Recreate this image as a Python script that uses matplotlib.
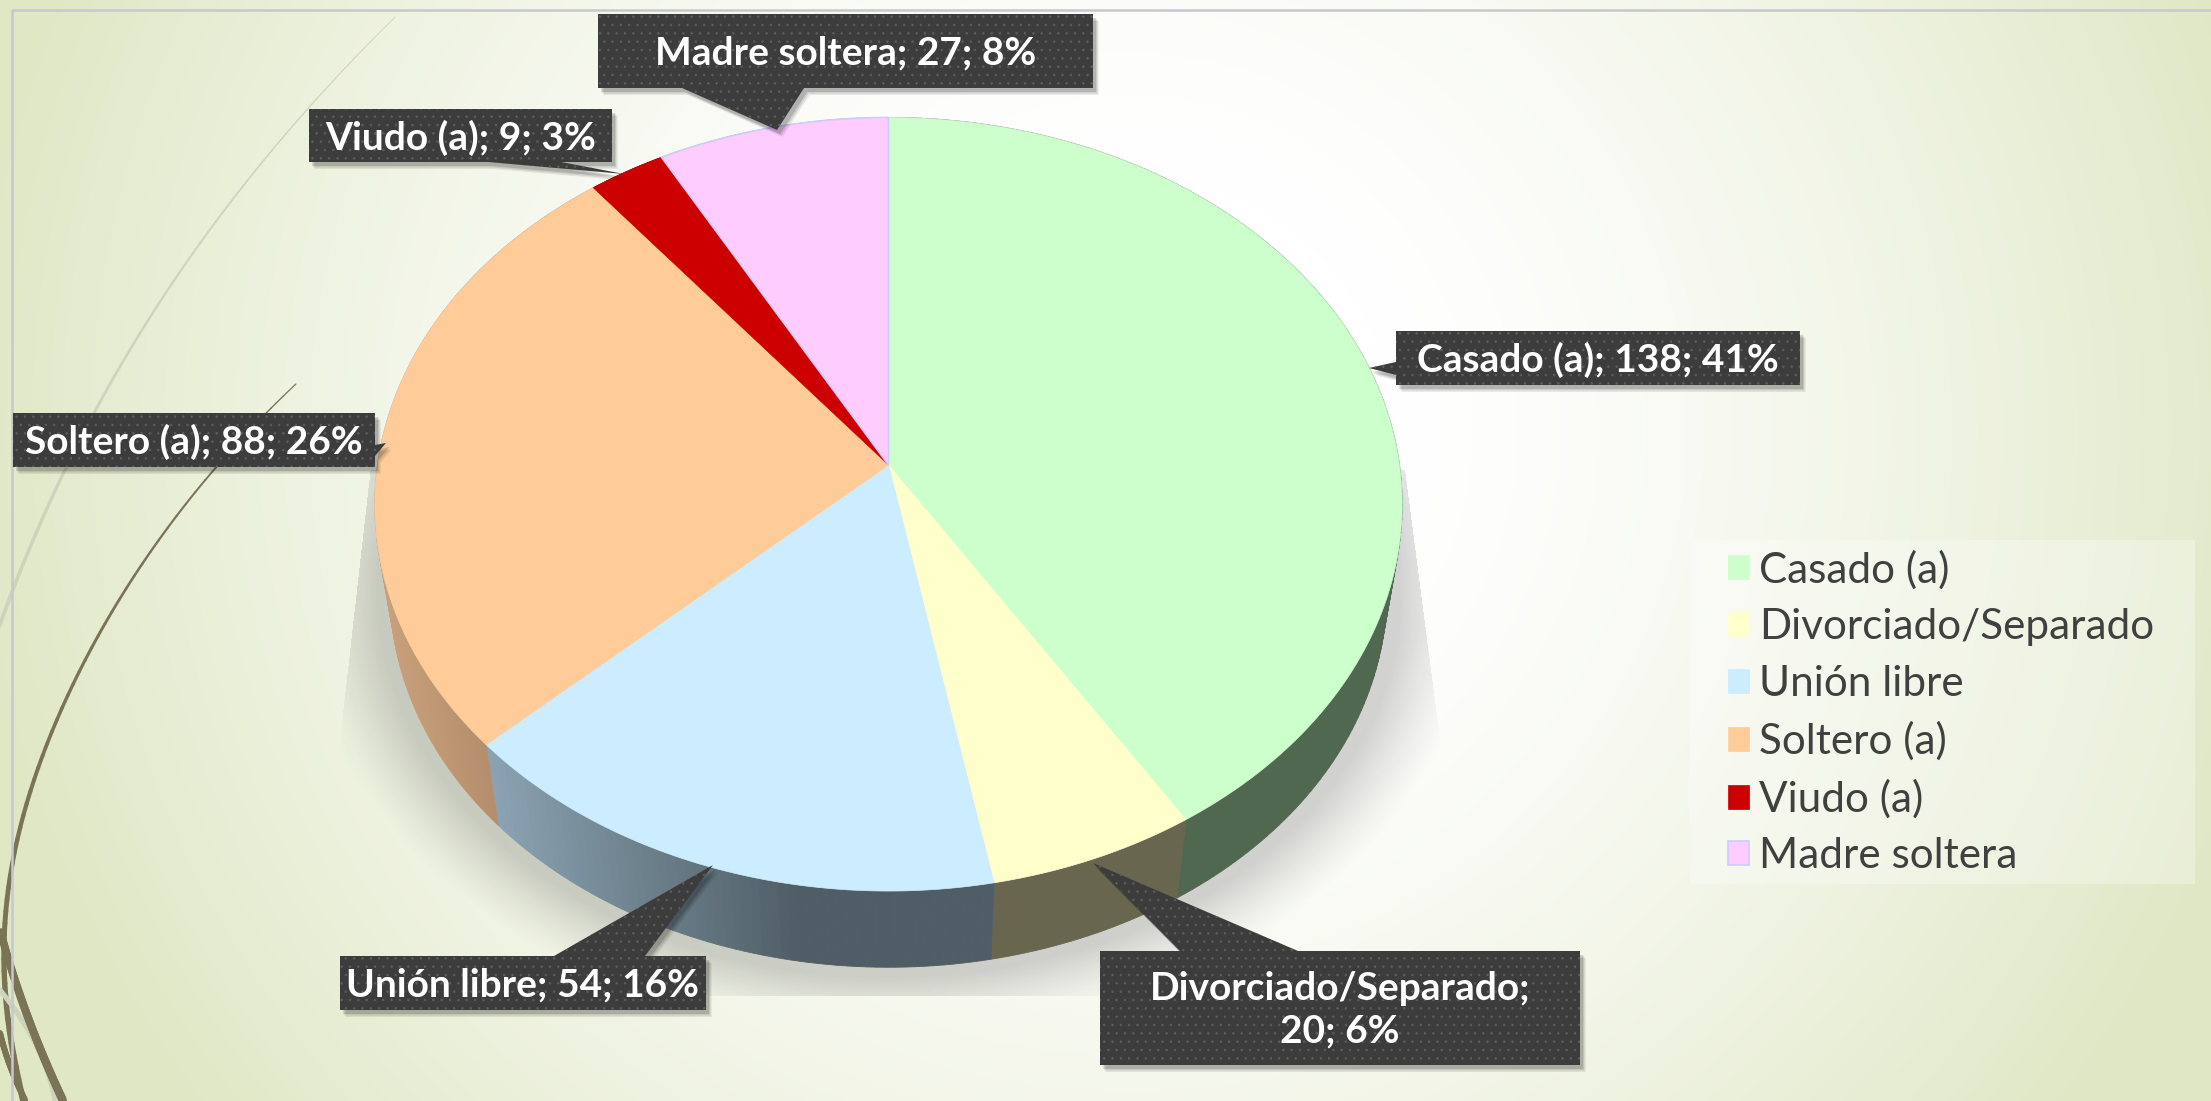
import numpy as np
import matplotlib
matplotlib.use("Agg")
import matplotlib.pyplot as plt
from matplotlib.patches import Polygon, Rectangle
from matplotlib.path import Path
from matplotlib.transforms import Transform, Affine2D

# ---------- data ----------
categories = ["Casado (a)", "Divorciado/Separado", "Unión libre", "Soltero (a)", "Viudo (a)", "Madre soltera"]
values = [138, 20, 54, 88, 9, 27]
percents = [41, 6, 16, 26, 3, 8]
top_colors = ["#CCFFCC", "#FFFFCC", "#CCECFF", "#FFCC99", "#CC0000", "#FFCCFF"]
side_left = ["#50684F", "#68664F", "#8AA2B2", "#CBA37D", "#7A0000", "#A080A0"]
side_right = ["#50684F", "#68664F", "#4F5E66", "#B38D6C", "#7A0000", "#A080A0"]
label_breaks = {"Divorciado/Separado": ";\n"}

W, H = 2211, 1101
CX, CY = 888.5, 465.0
A, B, K = 511.0, 382.8, 0.1015
DROP, SHRINK = 89.0, 0.97
FONT = "Lato"


class Persp(Transform):
    """Tilted-disc projection of the unit pie onto the canvas."""
    input_dims = output_dims = 2
    is_affine = False
    has_inverse = False

    def __init__(self, drop=0.0, shrink=1.0):
        super().__init__()
        self.drop, self.shrink = drop, shrink

    def transform_non_affine(self, xy):
        xy = np.asarray(xy, float)
        w = 1 + K * xy[:, 1]
        X = A * xy[:, 0] / w * self.shrink
        Y = -B * xy[:, 1] / w * self.shrink
        return np.column_stack([CX + X, CY + self.drop + Y])

    def transform_path_non_affine(self, path):
        polys = path.to_polygons(transform=Affine2D().scale(3000), width=0, height=0, closed_only=True)
        return Path(self.transform_non_affine(polys[0] / 3000.0))


top_proj = Persp()
low_proj = Persp(DROP, SHRINK)


def mix(c1, c2, t):
    a = np.array(matplotlib.colors.to_rgb(c1))
    b = np.array(matplotlib.colors.to_rgb(c2))
    return tuple(a + (b - a) * t)


fig = plt.figure(figsize=(W / 100, H / 100), dpi=100)
ax = fig.add_axes([0, 0, 1, 1])

# ---------- background ----------
yy, xx = np.mgrid[0:H, 0:W]
r = np.sqrt(((xx - 1130) / 1180.0) ** 2 + ((yy - 430) / 1150.0) ** 2)
t = np.clip((r - 0.22) / 0.78, 0, 1) ** 1.4
edge = np.array([0.875, 0.906, 0.77])
bg = 1 - t[..., None] * (1 - edge)
ax.imshow(bg, extent=(0, W, H, 0), aspect="auto", zorder=0, interpolation="bilinear")


def grass(pts, color, lw, deg=3):
    pts = np.array(pts, float)
    coef = np.polyfit(pts[:, 1], pts[:, 0], deg)
    ys = np.linspace(pts[:, 1].min(), pts[:, 1].max(), 240)
    n = len(ys) - 1
    xs = np.polyval(coef, ys)
    for i in range(0, n, 4):
        ax.plot(xs[i:i + 5], ys[i:i + 5], color=color, lw=lw[0] + (lw[1] - lw[0]) * i / n, zorder=0.6,
                solid_capstyle="round")


LIGHT, DARK = "#CDD3BC", "#7A7356"
grass([(395, 17), (309, 109), (210, 225), (126, 361), (70, 467), (47, 500), (13, 583), (0, 630)], LIGHT, (0.6, 2.8))
grass([(296, 384), (267, 412), (214, 470), (160, 538), (100, 633), (67, 697), (43, 753), (23, 820), (15, 850),
       (5, 913), (5, 980), (12, 1047), (23, 1100)], DARK, (0.9, 4.5), deg=6)
grass([(0, 990), (13, 1007), (55, 1100)], LIGHT, (3.5, 3.5), deg=2)
grass([(0, 932), (13, 970), (33, 1033), (63, 1100)], DARK, (5.5, 6.0), deg=2)
grass([(0, 1033), (17, 1083), (25, 1100)], DARK, (4.3, 4.3), deg=2)

# thin frame
ax.plot([11.5, 11.5, W], [H, 10, 10], color="#C6C8CC", lw=1.8, zorder=0.7, solid_capstyle="butt")

# ---------- ground shadow ----------
Yc = CY + DROP + 38.0
d = (np.sqrt(((xx - CX) / 498.0) ** 2 + ((yy - Yc) / 375.0) ** 2) - 1) * 430.0
alpha = 0.20 * np.clip(1 - (d - 12) / 68.0, 0, 1) ** 1.3
left_lim = 361 + (yy - 550) * (340 - 361) / 186.0
right_lim = 1415 + (yy - 550) * (1437 - 1415) / 169.0
alpha[(xx < left_lim) | (xx > right_lim) | (yy > 995) | (yy < 470)] = 0
rgba = np.zeros((H, W, 4))
rgba[..., :3] = 0.15
rgba[..., 3] = alpha
ax.imshow(rgba, extent=(0, W, H, 0), aspect="auto", zorder=0.8, interpolation="bilinear")

# ---------- pie ----------
wedges, _ = ax.pie(values, colors=top_colors, startangle=90, counterclock=False,
                   wedgeprops=dict(linewidth=0))
for w, col in zip(wedges, top_colors):
    w.set_transform(top_proj + ax.transData)
    w.set_zorder(3)
    w.set_edgecolor(col)
    w.set_linewidth(0.5)
wedges[5].set_edgecolor("#CCCCFF")
wedges[5].set_linewidth(1.2)

# side wall of each slice
for w, cl, cr in zip(wedges, side_left, side_right):
    angs = np.radians(np.linspace(w.theta1, w.theta2, max(3, int(abs(w.theta2 - w.theta1)) + 2)))
    circ = np.column_stack([np.cos(angs), np.sin(angs)])
    up = top_proj.transform_non_affine(circ)
    lo = low_proj.transform_non_affine(circ)
    for i in range(len(angs) - 1):
        poly = np.vstack([up[i:i + 2], lo[i:i + 2][::-1]])
        xm = poly[:, 0].mean()
        if cl == "#CBA37D":
            tt = np.clip((xm - 375) / 125.0, 0, 1)
        else:
            tt = np.clip((xm - 498) / 300.0, 0, 1)
        c = mix(cl, cr, tt)
        ax.add_patch(Polygon(poly, closed=True, fc=c, ec=c, lw=0.6, zorder=2))

# ---------- callouts ----------
plt.rcParams["hatch.linewidth"] = 0.6


def box_path(x0, y0, x1, y1, side, p0, p1, tip):
    if side == "top":
        return [(x0, y0), (p0, y0), tip, (p1, y0), (x1, y0), (x1, y1), (x0, y1)]
    if side == "bottom":
        return [(x0, y0), (x1, y0), (x1, y1), (p1, y1), tip, (p0, y1), (x0, y1)]
    if side == "left":
        return [(x0, y0), (x1, y0), (x1, y1), (x0, y1), (x0, p1), tip, (x0, p0)]
    return [(x0, y0), (x1, y0), (x1, p0), tip, (x1, p1), (x1, y1), (x0, y1)]


callouts = {
    "Casado (a)": (1396, 331, 1800, 385, "left", 362, 375, (1369, 368)),
    "Divorciado/Separado": (1100, 951, 1580, 1065, "top", 1180, 1298, (1093, 863)),
    "Unión libre": (340, 956, 706, 1010, "top", 554, 645, (713, 865)),
    "Soltero (a)": (13, 413, 375, 467, "right", 445, 456, (386, 443)),
    "Viudo (a)": (309, 109, 612, 162, "bottom", 488, 561, (624, 174)),
    "Madre soltera": (598, 14, 1093, 88, "bottom", 682, 804, (777, 130)),
}

for name, val, pct in zip(categories, values, percents):
    x0, y0, x1, y1, side, p0, p1, tip = callouts[name]
    pts = np.array(box_path(x0, y0, x1, y1, side, p0, p1, tip), float)
    for off, al in [(7, 0.08), (5.5, 0.10), (4, 0.14)]:
        ax.add_patch(Polygon(pts + [off * 0.8, off], closed=True, fc="k", ec="none", alpha=al, zorder=5))
    ax.add_patch(Polygon(pts, closed=True, fc="#3C3C3C", ec="#5C5C5C", hatch="..", lw=0, zorder=6))
    sep = label_breaks.get(name, "; ")
    ax.text((x0 + x1) / 2, (y0 + y1) / 2 + 2, f"{name}{sep}{val}; {pct}%", color="white", fontsize=28,
            fontweight="bold", family=FONT, ha="center", va="center", zorder=7, linespacing=1.25)

# ---------- legend ----------
ax.add_patch(Rectangle((1690, 540), 505, 344, fc="white", ec="none", alpha=0.3, zorder=3.5))
leg = ax.legend(wedges, categories, loc="upper left", bbox_to_anchor=(1728, 550),
                bbox_transform=ax.transData, borderaxespad=0, frameon=False,
                prop={"family": FONT, "size": 30.4}, labelcolor="#404040", handlelength=0.5,
                handleheight=0.5, handletextpad=0.24, labelspacing=0.44, borderpad=0)
leg.set_zorder(4)

ax.set_aspect("auto")
ax.set_xlim(0, W)
ax.set_ylim(H, 0)
ax.axis("off")
fig.savefig("out.png", dpi=100)
